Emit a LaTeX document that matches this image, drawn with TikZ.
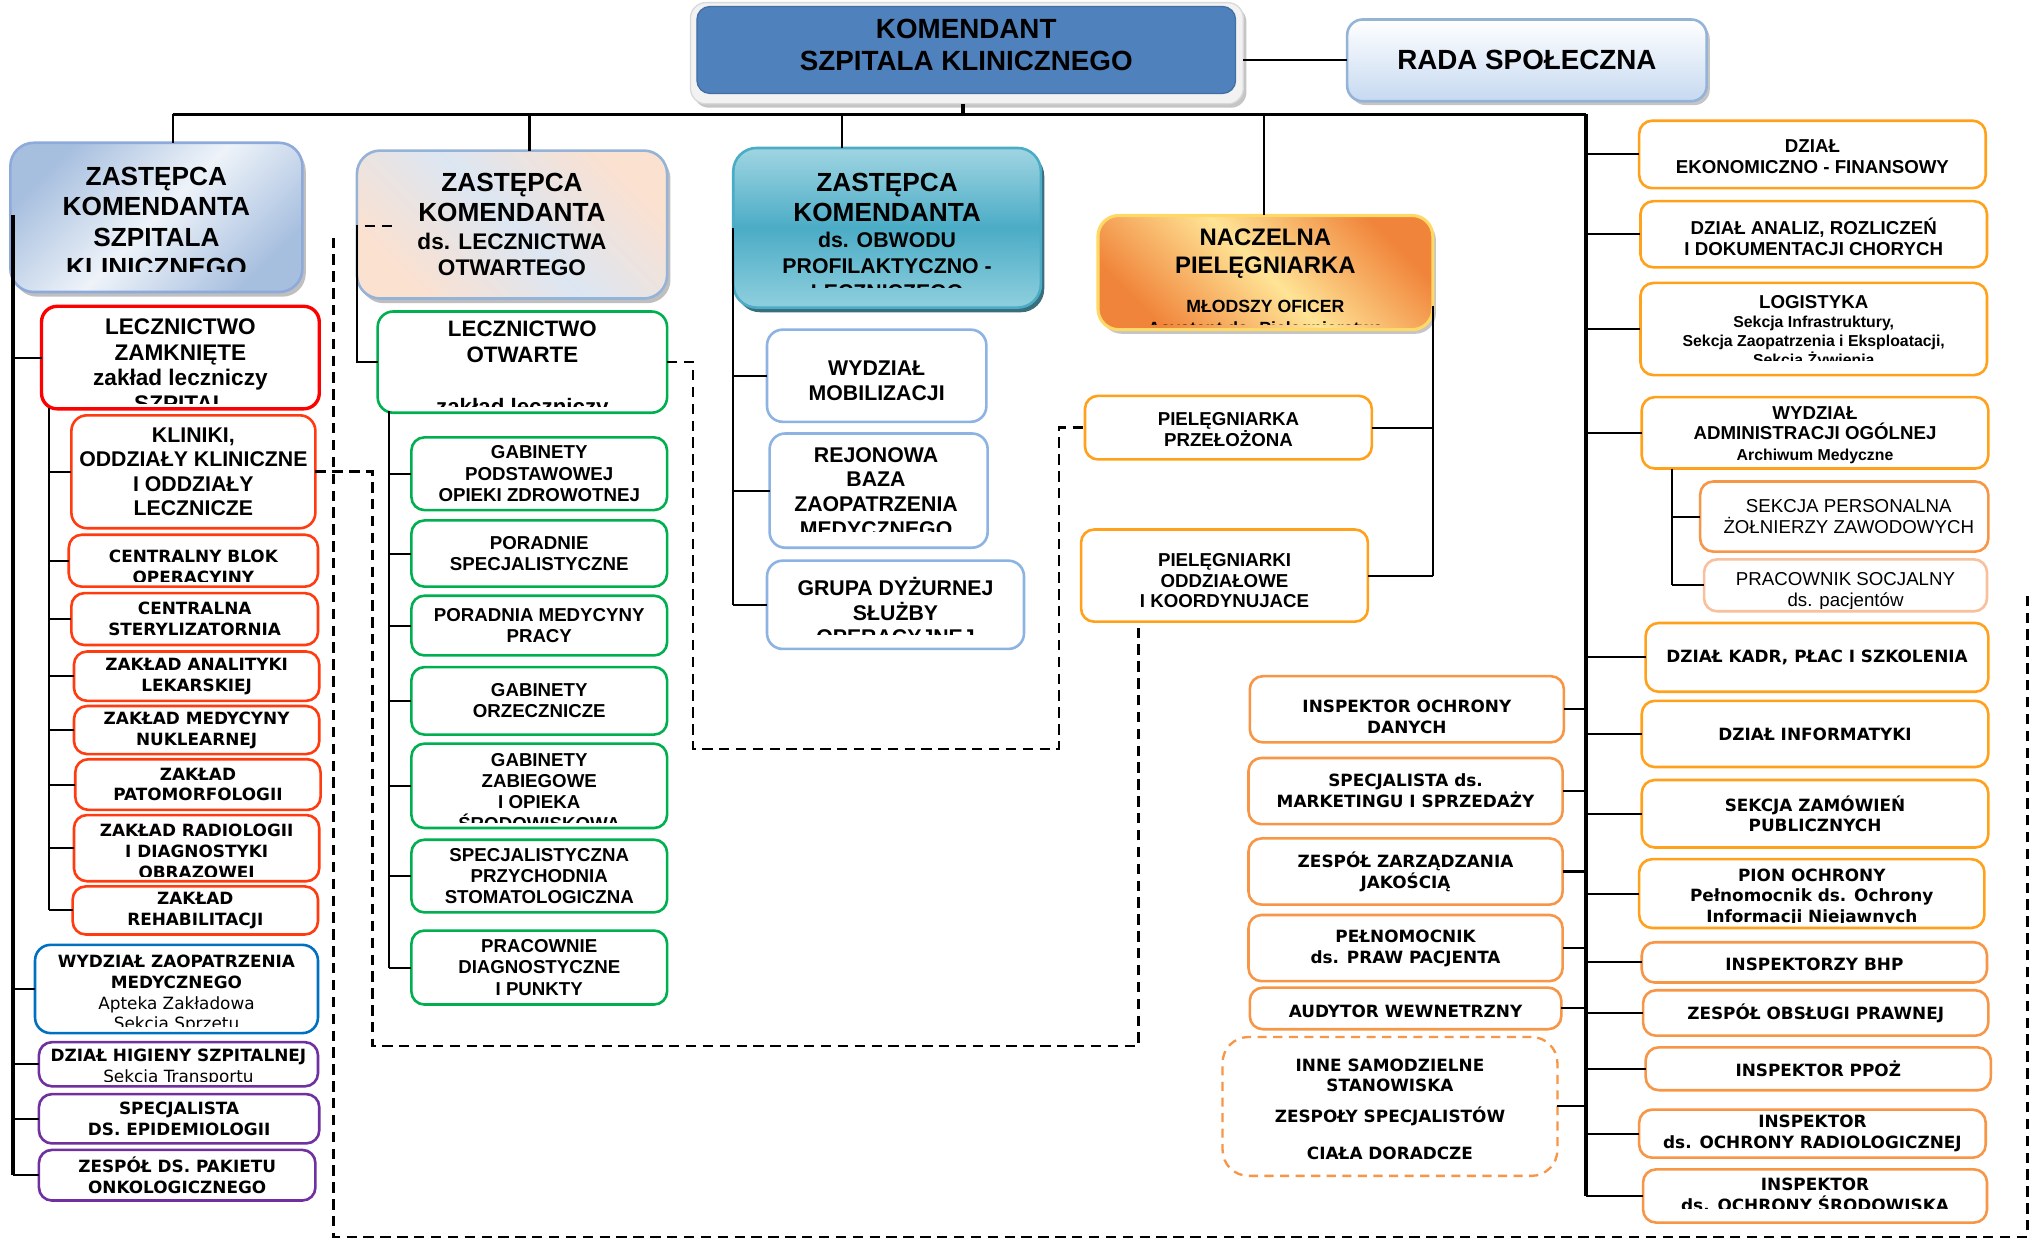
\documentclass[tikz,border=0pt]{standalone}
\usepackage{fontspec}
\setmainfont{Liberation Sans}
\newfontfamily\dvs{DejaVu Sans}
\usetikzlibrary{shadows}
\definecolor{komblue}{HTML}{4F81BD}
\definecolor{komframe}{HTML}{F2F2F2}
\definecolor{framedraw}{HTML}{D9D9D9}
\definecolor{radab}{HTML}{95B3D7}
\definecolor{radabot}{HTML}{C6D9F1}
\definecolor{zAa}{HTML}{A7BFDF}
\definecolor{zAb}{HTML}{EEF3F9}
\definecolor{zAd}{HTML}{8EAADB}
\definecolor{zBa}{HTML}{DCE6F2}
\definecolor{zBb}{HTML}{FBE1D0}
\definecolor{zCt}{HTML}{A0D5E2}
\definecolor{zCm}{HTML}{4BACC6}
\definecolor{zCb}{HTML}{8FCFDE}
\definecolor{zCs}{HTML}{24606F}
\definecolor{nacA}{HTML}{F0843A}
\definecolor{nacB}{HTML}{FFE496}
\definecolor{nacD}{HTML}{FFD966}
\definecolor{redA}{HTML}{FF0000}
\definecolor{redB}{HTML}{FF3B0F}
\definecolor{blueW}{HTML}{0070C0}
\definecolor{purp}{HTML}{7030A0}
\definecolor{grn}{HTML}{00B050}
\definecolor{lblue}{HTML}{8DB3E2}
\definecolor{orgA}{HTML}{FFA11A}
\definecolor{orgB}{HTML}{F79646}
\definecolor{orgC}{HTML}{F8C09C}
\newcommand\smf{\fontsize{8.7}{10}\selectfont}
\newcommand\smz{\fontsize{8.2}{9.5}\selectfont}
\newcommand\smn{\fontsize{6.8}{8}\selectfont}
\newcommand\sml{\fontsize{6.1}{7}\selectfont}
% box with centred text
\newcommand\bx[8][]{%
  \pgfmathsetmacro\bxW{(#6-#4)*0.5}\pgfmathsetmacro\bxH{(#7-#5)*0.5}%
  \pgfmathsetmacro\bxX{(#4+#6)/2}\pgfmathsetmacro\bxY{(#5+#7)/2}%
  \node[#2, minimum width=\bxW pt, minimum height=\bxH pt] (#3) at (\bxX,\bxY) {};%
  \node[#2-t,#1] (#3-t) at (\bxX,\bxY) {#8};%
}
% box with clipped text
\newcommand\bxc[9][]{%
  \pgfmathsetmacro\bxW{(#6-#4)*0.5}\pgfmathsetmacro\bxH{(#7-#5)*0.5}%
  \pgfmathsetmacro\bxX{(#4+#6)/2}\pgfmathsetmacro\bxY{(#5+#7)/2}%
  \node[#2, minimum width=\bxW pt, minimum height=\bxH pt] (#3) at (\bxX,\bxY) {};%
  \begin{scope}\clip (#4,#5) rectangle (#6,#8);
  \node[#2-t,#1] (#3-t) at (\bxX,\bxY) {#9};\end{scope}%
}
\tikzset{
 bb/.style={rounded corners=4pt, line width=1pt, fill=white, inner sep=0pt, outer sep=0pt},
 tt/.style={align=center, inner sep=0pt, outer sep=0pt, text=black},
 hdt/.style={tt, font=\fontsize{10.1}{11.6}\selectfont\bfseries},
 vb/.style={tt, font=\dvs\fontsize{6.5}{8}\selectfont\bfseries},
 komf/.style={bb, rounded corners=6pt, fill=komframe, draw=framedraw, line width=0.5pt,
   drop shadow={shadow xshift=1.2pt, shadow yshift=-1.5pt, fill=black!45, opacity=0.5}},
 kom/.style={bb, rounded corners=5pt, fill=komblue, draw=komblue!85!black, line width=0.5pt},
 kom-t/.style={tt, font=\fontsize{10.7}{12.5}\selectfont\bfseries},
 rada/.style={bb, rounded corners=6pt, draw=radab, line width=1pt, top color=white, bottom color=radabot,
   drop shadow={shadow xshift=1.2pt, shadow yshift=-1.5pt, fill=black!45, opacity=0.5}},
 rada-t/.style={tt, font=\fontsize{10.7}{12.5}\selectfont\bfseries},
 zA/.style={bb, rounded corners=9pt, draw=zAd, line width=1pt, top color=zAa, bottom color=zAa, middle color=zAb, shading angle=45,
   drop shadow={shadow xshift=1.3pt, shadow yshift=-1.8pt, fill=black!50, opacity=0.5}},
 zA-t/.style={hdt},
 zB/.style={bb, rounded corners=9pt, draw=radab, line width=1pt, top color=zBb, bottom color=zBb, middle color=zBa, shading angle=-45,
   drop shadow={shadow xshift=1.3pt, shadow yshift=-1.8pt, fill=black!50, opacity=0.5}},
 zB-t/.style={hdt},
 zC/.style={bb, rounded corners=9pt, draw=zCm, line width=1pt, top color=zCt, bottom color=zCb, middle color=zCm,
   drop shadow={shadow xshift=1.3pt, shadow yshift=-1.8pt, fill=zCs, opacity=0.9}},
 zC-t/.style={hdt},
 nA/.style={bb, rounded corners=8pt, draw=nacD, line width=1.2pt, top color=nacA, bottom color=nacA, middle color=nacB, shading angle=-45,
   drop shadow={shadow xshift=1.2pt, shadow yshift=-1.6pt, fill=black!45, opacity=0.5}},
 nA-t/.style={tt, font=\fontsize{9.2}{10.7}\selectfont\bfseries},
 rz/.style={bb, draw=redA, line width=1.3pt, rounded corners=6pt},
 rz-t/.style={tt, font=\fontsize{8.7}{9.9}\selectfont\bfseries},
 rk/.style={bb, draw=redB, rounded corners=6pt},
 rk-t/.style={tt, font=\fontsize{8.2}{9.25}\selectfont\bfseries},
 rs/.style={bb, draw=redB, rounded corners=5pt},
 rs-t/.style={vb},
 bw/.style={bb, draw=blueW, rounded corners=6pt},
 bw-t/.style={vb},
 pb/.style={bb, draw=purp, rounded corners=5pt},
 pb-t/.style={vb},
 gA/.style={bb, draw=grn, rounded corners=6pt},
 gA-t/.style={tt, font=\fontsize{8.6}{10}\selectfont\bfseries},
 gB/.style={bb, draw=grn, rounded corners=5pt},
 gB-t/.style={tt, font=\fontsize{7.2}{8.25}\selectfont\bfseries},
 lb/.style={bb, draw=lblue, rounded corners=6pt},
 lb-t/.style={tt, font=\fontsize{8.2}{9.5}\selectfont\bfseries},
 oA/.style={bb, draw=orgA, rounded corners=5pt},
 oA-t/.style={tt, font=\fontsize{7.2}{8}\selectfont\bfseries},
 oAv/.style={oA},
 oAv-t/.style={vb},
 mB/.style={bb, draw=orgB, rounded corners=5pt},
 mB-t/.style={vb},
 oB/.style={bb, draw=orgB, rounded corners=5pt},
 oB-t/.style={tt, font=\fontsize{7.2}{8.3}\selectfont},
 pc/.style={bb, draw=orgC, rounded corners=5pt},
 pc-t/.style={tt, font=\fontsize{7.2}{8.1}\selectfont},
 ib/.style={bb, draw=orgB, line width=0.9pt, dash pattern=on 3.5pt off 2.5pt, rounded corners=10pt},
 ib-t/.style={vb},
 conn/.style={draw=black, line width=0.8pt},
 bus/.style={draw=black, line width=1.2pt},
 dsh/.style={draw=black, line width=1pt, dash pattern=on 4pt off 2.5pt}
}
\begin{document}
\begin{tikzpicture}[x=0.5pt,y=-0.5pt]
\fill[white] (0,0) rectangle (1568,955);
\useasboundingbox (0,0) rectangle (1568,955);

% ---------- top ----------
\node[komf, minimum width=213pt, minimum height=39pt] (komf) at (745,41) {};
\bx[yshift=2pt]{kom}{kom}{537}{5}{952}{72}{KOMENDANT\\SZPITALA KLINICZNEGO}
\bx{rada}{rada}{1038}{15}{1315}{78}{RADA SPOŁECZNA}

% ---------- column 1 ----------
\bxc[yshift=-1.75pt]{zA}{z1}{8}{110}{233}{225}{209.5}{ZASTĘPCA\\KOMENDANTA\\SZPITALA\\KLINICZNEGO}
\bxc[yshift=-2.9pt]{rz}{lz}{32}{236}{246}{315}{310.8}{LECZNICTWO\\ZAMKNIĘTE\\zakład leczniczy\\SZPITAL}
\bx{rk}{kl}{55}{320}{243}{407}{KLINIKI,\\ODDZIAŁY KLINICZNE\\I ODDZIAŁY\\LECZNICZE}
\bxc[yshift=-3pt]{rs}{cbo}{53}{412}{245}{452}{448.3}{CENTRALNY BLOK\\OPERACYJNY}
\bx{rs}{cs}{55}{457}{245}{497}{CENTRALNA\\STERYLIZATORNIA}
\bx{rs}{zal}{57}{502}{246}{540}{ZAKŁAD ANALITYKI\\LEKARSKIEJ}
\bx{rs}{zmn}{57}{544}{246}{581}{ZAKŁAD MEDYCYNY\\NUKLEARNEJ}
\bx{rs}{zp}{58}{585}{247}{624}{ZAKŁAD\\PATOMORFOLOGII}
\bxc[yshift=-1.75pt]{rs}{zr}{57}{628}{246}{679}{675}{ZAKŁAD RADIOLOGII\\I DIAGNOSTYKI\\OBRAZOWEJ}
\bx{rs}{zrh}{56}{683}{245}{720}{ZAKŁAD\\REHABILITACJI}
\bxc[yshift=-2pt]{bw}{wzm}{27}{728}{245}{796}{791}{WYDZIAŁ ZAOPATRZENIA\\MEDYCZNEGO\\{\mdseries Apteka Zakładowa}\\{\mdseries Sekcja Sprzętu}}
\bxc[yshift=-1.25pt]{pb}{dhs}{30}{803}{245}{837}{833.5}{DZIAŁ HIGIENY SZPITALNEJ\\{\mdseries Sekcja Transportu}}
\bx{pb}{spe}{30}{843}{246}{881}{SPECJALISTA\\DS. EPIDEMIOLOGII}
\bx{pb}{zon}{30}{886}{243}{925}{ZESPÓŁ DS. PAKIETU\\ONKOLOGICZNEGO}

% ---------- column 2 ----------
\bx{zB}{z2}{275}{116}{514}{230}{ZASTĘPCA\\KOMENDANTA\\[-0.8pt]{\smf ds. LECZNICTWA}\\[-1.6pt]{\smf OTWARTEGO}}
\bxc[yshift=-3pt]{gA}{lo}{291}{240}{514}{318}{313.5}{LECZNICTWO\\OTWARTE\\[10pt]zakład leczniczy}
\bx{gB}{gpo}{317}{337}{514}{393}{GABINETY\\PODSTAWOWEJ\\OPIEKI ZDROWOTNEJ}
\bx{gB}{ps}{317}{401}{514}{452}{PORADNIE\\SPECJALISTYCZNE}
\bx{gB}{pmp}{317}{459}{514}{505}{PORADNIA MEDYCYNY\\PRACY}
\bx{gB}{go}{317}{514}{514}{566}{GABINETY\\ORZECZNICZE}
\bxc[yshift=-2.25pt]{gB}{gz}{317}{573}{514}{638}{633.5}{GABINETY\\ZABIEGOWE\\I OPIEKA\\ŚRODOWISKOWA}
\bx{gB}{sps}{317}{647}{514}{703}{SPECJALISTYCZNA\\PRZYCHODNIA\\STOMATOLOGICZNA}
\bx{gB}{pd}{317}{717}{514}{774}{PRACOWNIE\\DIAGNOSTYCZNE\\I PUNKTY}

% ---------- column 3 ----------
\bxc[yshift=-3.25pt]{zC}{z3}{565}{114}{802}{237}{221.6}{ZASTĘPCA\\KOMENDANTA\\[-1.4pt]{\smz ds. OBWODU}\\[-1.7pt]{\smz PROFILAKTYCZNO -}\\[-1.7pt]{\smz LECZNICZEGO}}
\bx[yshift=-2pt]{lb}{wm}{591}{254}{760}{325}{WYDZIAŁ\\MOBILIZACJI}
\bxc[xshift=-1pt,yshift=-0.5pt]{lb}{rbz}{593}{334}{761}{422}{409.5}{REJONOWA\\BAZA\\ZAOPATRZENIA\\MEDYCZNEGO}
\bxc[yshift=-2.5pt]{lb}{gd}{591}{432}{789}{500}{488.5}{GRUPA DYŻURNEJ\\SŁUŻBY\\OPERACYJNEJ}

% ---------- nursing ----------
\bxc[yshift=-4.2pt]{nA}{nacz}{846}{166}{1104}{254}{249.7}{NACZELNA\\PIELĘGNIARKA\\[4.6pt]{\smn MŁODSZY OFICER}\\[-2.35pt]{\smn Asystent ds. Pielęgniarstwa}}
\bx[yshift=-0.75pt]{oA}{pp}{836}{305}{1057}{354}{PIELĘGNIARKA\\PRZEŁOŻONA}
\bx[yshift=-2pt]{oA}{po}{833}{408}{1054}{479}{PIELĘGNIARKI\\ODDZIAŁOWE\\I KOORDYNUJACE}

% ---------- middle ----------
\bx[yshift=-2.85pt]{mB}{iod}{963}{521}{1205}{572}{INSPEKTOR OCHRONY\\DANYCH}
\bx{mB}{smk}{962}{584}{1204}{635}{SPECJALISTA ds.\\MARKETINGU I SPRZEDAŻY}
\bx{mB}{zzj}{962}{646}{1204}{697}{ZESPÓŁ ZARZĄDZANIA\\JAKOŚCIĄ}
\bx{mB}{ppp}{962}{705}{1204}{756}{PEŁNOMOCNIK\\ds. PRAW PACJENTA}
\bx[yshift=-1pt]{mB}{aw}{963}{761}{1203}{793}{AUDYTOR WEWNETRZNY}
\bx[yshift=-1pt]{ib}{inne}{942}{799}{1200}{906}{INNE SAMODZIELNE\\STANOWISKA\\[3.7pt]ZESPOŁY SPECJALISTÓW\\[6.3pt]CIAŁA DORADCZE}

% ---------- right ----------
\bx[yshift=-0.75pt]{oA}{def}{1263}{93}{1530}{145}{DZIAŁ\\EKONOMICZNO - FINANSOWY}
\bx[yshift=-1pt]{oA}{dar}{1264}{155}{1531}{206}{DZIAŁ ANALIZ, ROZLICZEŃ\\I DOKUMENTACJI CHORYCH}
\bxc[yshift=-1.2pt,font=\fontsize{7.2}{7.4}\selectfont\bfseries]{oA}{log}{1264}{218}{1531}{289}{277.4}{LOGISTYKA\\{\sml Sekcja Infrastruktury,}\\{\sml Sekcja Zaopatrzenia i Eksploatacji,}\\{\sml Sekcja Żywienia}}
\bx[yshift=-0.85pt]{oA}{wao}{1265}{306}{1532}{361}{WYDZIAŁ\\ADMINISTRACJI OGÓLNEJ\\{\sml Archiwum Medyczne}}
\bx[xshift=1.75pt]{oB}{spz}{1310}{371}{1532}{425}{SEKCJA PERSONALNA\\ŻOŁNIERZY ZAWODOWYCH}
\bxc[yshift=-2.45pt]{pc}{pso}{1313}{431}{1531}{471}{468.5}{PRACOWNIK SOCJALNY\\ds. pacjentów}
\bx{oAv}{dkp}{1268}{480}{1532}{533}{DZIAŁ KADR, PŁAC I SZKOLENIA}
\bx{oAv}{di}{1265}{540}{1532}{591}{DZIAŁ INFORMATYKI}
\bx{oAv}{szp}{1265}{601}{1532}{653}{SEKCJA ZAMÓWIEŃ\\PUBLICZNYCH}
\bxc[yshift=-1.45pt]{oAv}{pio}{1263}{662}{1529}{715}{710.5}{PION OCHRONY\\Pełnomocnik ds. Ochrony\\Informacji Niejawnych}
\bx[yshift=-0.9pt]{mB}{bhp}{1265}{726}{1531}{757}{INSPEKTORZY BHP}
\bx{mB}{zop}{1266}{763}{1532}{798}{ZESPÓŁ OBSŁUGI PRAWNEJ}
\bx{mB}{ppoz}{1268}{807}{1534}{840}{INSPEKTOR PPOŻ}
\bx{mB}{ior}{1263}{855}{1530}{892}{INSPEKTOR\\ds. OCHRONY RADIOLOGICZNEJ}
\bxc[yshift=0.5pt]{mB}{ios}{1266}{901}{1531}{942}{931.5}{INSPEKTOR\\ds. OCHRONY ŚRODOWISKA}

% ---------- connectors ----------
\coordinate (busL) at (133,88);
\coordinate (busR) at (1222,88);
\coordinate (busM) at (742,88);
\coordinate (d2) at (408,88);
\coordinate (d3) at (649,88);
\coordinate (d4) at (974,88);
\draw[conn] (komf.east |- rada.west) -- (rada.west);
\draw[bus] (busM |- komf.south) -- (busM);
\draw[bus] (busL) -- (busR);
\draw[conn] (busL) -- (busL |- z1.north);
\draw[conn] (d2) -- (d2 |- z2.north);
\draw[conn] (d3) -- (d3 |- z3.north);
\draw[conn] (d4) -- (d4 |- nacz.north);
\draw[bus] (busR) -- (busR |- ios.west);

% column 1
\coordinate (lb) at (10,166);
\draw[bus] (lb) -- (lb |- zon.west);
\foreach \n in {lz,wzm,dhs,spe,zon} {\draw[conn] (\n.west) -- (\n.west -| lb);}
\coordinate (sb) at (38,314);
\draw[conn] (sb) -- (sb |- zrh.west);
\foreach \n in {kl,cbo,cs,zal,zmn,zp,zr,zrh} {\draw[conn] (\n.west) -- (\n.west -| sb);}

% column 2
\draw[conn] (z2.west) -- (z2.west |- lo.west) -- (lo.west);
\coordinate (gbus) at (300,317);
\draw[conn] (gbus) -- (gbus |- pd.west);
\foreach \n in {gpo,ps,pmp,go,gz,sps,pd} {\draw[conn] (\n.west) -- (\n.west -| gbus);}

% column 3
\draw[conn] (z3.west) -- (z3.west |- gd.west);
\foreach \n in {wm,rbz,gd} {\draw[conn] (\n.west) -- (\n.west -| z3.west);}

% nursing
\coordinate (nr) at (1104,236);
\draw[conn] (nr) -- (nr |- po.east);
\draw[conn] (pp.east) -- (pp.east -| nr);
\draw[conn] (po.east) -- (po.east -| nr);

% middle and right
\foreach \n in {iod,smk,zzj,ppp,aw,inne} {\draw[conn] (\n.east) -- (\n.east -| busR);}
\foreach \n in {def,dar,log,wao,dkp,di,szp,pio,bhp,zop,ppoz,ior,ios} {\draw[conn] (\n.west) -- (\n.west -| busR);}
\coordinate (wb) at (1288,361);
\draw[conn] (wb) -- (wb |- pso.west);
\draw[conn] (spz.west) -- (spz.west -| wb);
\draw[conn] (pso.west) -- (pso.west -| wb);

% dashed links
\coordinate (da) at (287,0);
\coordinate (db) at (0,806);
\coordinate (dc) at (877,0);
\draw[dsh] (kl.east) -- (kl.east -| da) -- (da |- db) -- (dc |- db) -- (dc |- po.south);
\coordinate (ea) at (534,0);
\coordinate (eb) at (0,577);
\coordinate (ec) at (816,0);
\draw[dsh] (lo.east) -- (lo.east -| ea) -- (ea |- eb) -- (ec |- eb) -- (ec |- pp.west) -- (pp.west);
\coordinate (l1) at (257,183);
\coordinate (l2) at (257,953);
\coordinate (l3) at (1562,953);
\coordinate (l4) at (1562,457);
\draw[dsh] (l1) -- (l2) -- (l3) -- (l4);
\coordinate (s1) at (281,174);
\coordinate (s2) at (305,174);
\draw[dsh] (s1) -- (s2);
\end{tikzpicture}
\end{document}
